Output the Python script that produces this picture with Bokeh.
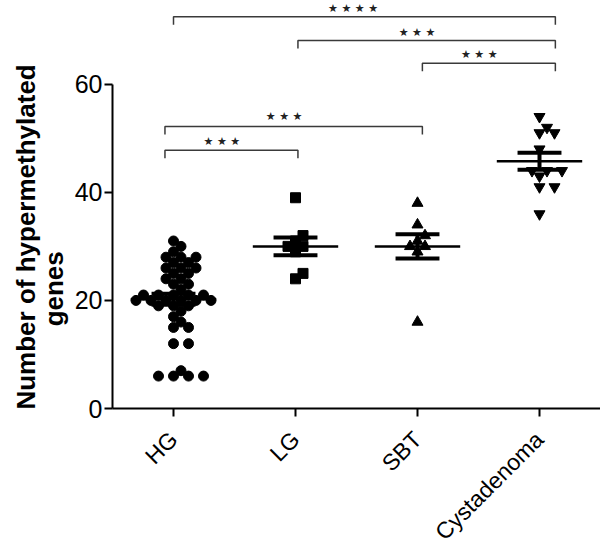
import math
import numpy as np
from bokeh.plotting import figure
from bokeh.layouts import row
from bokeh.models import Range1d, FixedTicker, ColumnDataSource
from bokeh.embed import file_html
from bokeh.resources import INLINE
from bokeh.core.properties import value

# ---------------- data ----------------
categories = ["HG", "LG", "SBT", "Cystadenoma"]
hg_values = [31, 30, 29, 28, 28, 28, 27, 27, 26, 26, 26, 25, 25, 24, 24, 23, 23, 22,
             21, 21, 21, 21, 21, 20, 20, 20, 20, 20, 20, 19, 19, 19, 18, 17, 16,
             15, 15, 12, 12, 7, 6, 6, 6, 6]
lg_values = [39, 32, 31, 30, 30, 29, 25, 24]
sbt_values = [38, 34, 32, 31, 30, 30, 29, 16]
cyst_values = [54, 52, 51, 51, 48, 44, 44, 44, 43, 41, 41, 36]
group_values = [hg_values, lg_values, sbt_values, cyst_values]
group_markers = ["circle", "square", "triangle", "inverted_triangle"]
y_ticks = [0, 20, 40, 60]
y_label_lines = ["Number of hypermethylated", "genes"]
# significance brackets: (left x, right x, height, star label height, stars)
brackets = [
    (1.0, 4.13, 72.5, 74.1, "★  ★  ★  ★"),
    (2.02, 4.13, 68.1, 69.5, "★  ★  ★"),
    (3.04, 4.13, 63.9, 65.5, "★  ★  ★"),
    (0.93, 3.04, 52.2, 54.0, "★  ★  ★"),
    (0.93, 2.02, 47.8, 49.4, "★  ★  ★"),
]

# ---------------- layout constants ----------------
X_PX = 122.0     # pixels per category unit
Y_PX = 5.417     # pixels per data unit
FONT = "Liberation Sans"
H = 557
FRAME_H = 409    # plot frame height in pixels (both panels share it in the row)


def swarm_offsets(vals, row_gap=15.0, min_dist=9.0, step=0.5):
    """Deterministic swarm: equal values sit in a row 15px apart, neighbours may overlap a bit."""
    placed = []
    offs = [0.0] * len(vals)
    order = sorted(range(len(vals)), key=lambda i: vals[i])
    for i in order:
        y = vals[i] * Y_PX
        best = None
        k = 0
        while best is None:
            cands = [0.0] if k == 0 else [k * step, -k * step]
            for s in cands:
                ok = True
                for px, py in placed:
                    dx, dy = s - px, y - py
                    if abs(dy) < 1.0:
                        if abs(dx) < row_gap:
                            ok = False
                            break
                    elif dx * dx + dy * dy < min_dist * min_dist:
                        ok = False
                        break
                if ok:
                    best = s
                    break
            k += 1
        placed.append((best, y))
        offs[i] = best / X_PX
    return offs


# ---------------- y-axis title panel (pixel coordinates of the frame, y up) ----------------
lab = figure(width=70, height=H, x_range=Range1d(0, 70), y_range=Range1d(0, FRAME_H),
             x_axis_type=None, y_axis_type=None, output_backend="svg",
             toolbar_location=None, min_border=0, min_border_bottom=H - FRAME_H)
lab.outline_line_color = None
lab.xgrid.visible = False
lab.ygrid.visible = False
lab.text(x=[25, 53], y=[FRAME_H - 237, FRAME_H - 289], text=y_label_lines, angle=math.pi / 2,
         text_font=value(FONT), text_font_size="26px", text_font_style="bold",
         text_align="center", text_baseline="middle", text_color="black")

# ---------------- main plot ----------------
p = figure(width=530, height=H, x_range=Range1d(0.5, 4.5), y_range=Range1d(0, 75.5),
           output_backend="svg", toolbar_location=None,
           min_border_left=42, min_border_right=0, min_border_top=0,
           min_border_bottom=H - FRAME_H)
p.outline_line_color = None
p.xgrid.visible = False
p.ygrid.visible = False

for gi, vals in enumerate(group_values):
    offs = swarm_offsets(vals)
    xs = [gi + 1 + o for o in offs]
    src = ColumnDataSource(dict(x=xs, y=vals))
    p.scatter("x", "y", source=src, marker=group_markers[gi],
              size=10 if group_markers[gi] in ("circle", "square") else 11,
              fill_color="black", line_color="black")

# mean and SEM
means = [float(np.mean(v)) for v in group_values]
sems = [float(np.std(v, ddof=1) / math.sqrt(len(v))) for v in group_values]
cx = [i + 1 for i in range(len(categories))]
hi = [m + s for m, s in zip(means, sems)]
lo = [m - s for m, s in zip(means, sems)]
p.segment(x0=[c - 0.35 for c in cx], x1=[c + 0.35 for c in cx], y0=means, y1=means,
          line_color="black", line_width=2.5)
p.segment(x0=[c - 0.18 for c in cx], x1=[c + 0.18 for c in cx], y0=hi, y1=hi,
          line_color="black", line_width=4)
p.segment(x0=[c - 0.18 for c in cx], x1=[c + 0.18 for c in cx], y0=lo, y1=lo,
          line_color="black", line_width=4)
p.segment(x0=cx, x1=cx, y0=lo, y1=hi, line_color="black", line_width=4)

# brackets
bxs = [[b[0], b[0], b[1], b[1]] for b in brackets]
bys = [[b[2] - 1.5, b[2], b[2], b[2] - 1.5] for b in brackets]
p.multi_line(xs=bxs, ys=bys, line_color="#3a3a3a", line_width=1.5)
p.text(x=[(b[0] + b[1]) / 2 - 0.05 for b in brackets], y=[b[3] for b in brackets],
       text=[b[4] for b in brackets], text_font=value("DejaVu Sans"),
       text_font_size="11px", text_align="center", text_baseline="middle",
       text_color="#222222")

# axes
for ax in (p.xaxis[0], p.yaxis[0]):
    ax.axis_line_width = 2
    ax.axis_line_color = "black"
    ax.major_tick_line_width = 2
    ax.major_tick_line_color = "black"
    ax.major_tick_out = 8
    ax.major_tick_in = 0
    ax.minor_tick_out = 0
    ax.minor_tick_in = 0
    ax.major_label_text_font = FONT
    ax.major_label_text_color = "black"

p.yaxis.ticker = FixedTicker(ticks=y_ticks)
p.yaxis.bounds = (0, 60)
p.yaxis.major_label_text_font_size = "25px"
p.yaxis.major_label_standoff = 2

p.xaxis.ticker = FixedTicker(ticks=cx)
p.xaxis.major_label_overrides = {c: n for c, n in zip(cx, categories)}
p.xaxis.major_label_orientation = math.pi / 4
p.xaxis.major_label_text_font_size = "23px"
p.xaxis.major_label_standoff = 19

layout = row(lab, p, spacing=0)
open("out.html", "w").write(file_html(layout, INLINE))
